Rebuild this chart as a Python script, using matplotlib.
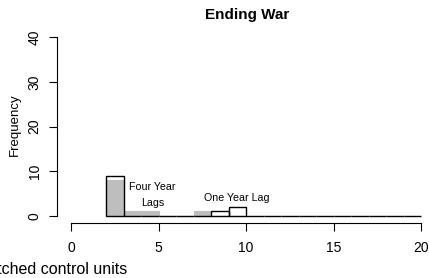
#! /usr/bin/env python3

import matplotlib
matplotlib.use( "Agg" )
import matplotlib.pyplot as plt
import numpy as np

plt.rcParams["font.family"] = ["Liberation Sans", "DejaVu Sans"]

# histogram bins (unit width) and counts
four_edges = np.arange( 2, 11 )
four_counts = [8, 1, 1, 0, 0, 1, 0, 0]
one_edges = np.arange( 2, 21 )
one_counts = [9, 0, 0, 0, 0, 0, 1, 2] + [0] * 10

title = "Ending War"
xlabel = "Number of matched control units"
ylabel = "Frequency"
xticks = [0, 5, 10, 15, 20]
yticks = [0, 10, 20, 30, 40]

fig = plt.figure( figsize=(4.29, 2.78), dpi=100 )
ax = fig.add_axes( [57/429, 55/278, 378/429, 193/278] )

ax.bar( four_edges[:-1], four_counts, width=np.diff( four_edges ), align="edge",
        color="#bebebe", edgecolor="#bebebe", linewidth=0.8 )
ax.bar( one_edges[:-1], one_counts, width=np.diff( one_edges ), align="edge",
        fill=False, edgecolor="black", linewidth=1.0 )

ax.text( 4.65, 6.4, "Four Year", ha="center", va="center", fontsize=7.7 )
ax.text( 4.65, 2.9, "Lags", ha="center", va="center", fontsize=7.7 )
ax.text( 9.5, 4.0, "One Year Lag", ha="center", va="center", fontsize=7.7 )

ax.set_xlim( -0.8, 20.8 )
ax.set_ylim( -1.6, 41.6 )
for s in ["top", "right"]:
    ax.spines[s].set_visible( False )
ax.spines["left"].set_bounds( 0, 40 )
ax.spines["bottom"].set_bounds( 0, 20 )
ax.spines["left"].set_linewidth( 0.8 )
ax.spines["bottom"].set_linewidth( 0.8 )
ax.set_xticks( xticks )
ax.set_yticks( yticks )
ax.set_yticklabels( [str(v) for v in yticks], rotation=90, va="center" )
ax.tick_params( length=6, width=0.8, labelsize=10, pad=7 )
ax.tick_params( axis="y", pad=5 )

fig.text( 247/429, 1 - 15/278, title, ha="center", va="center",
          fontsize=11, fontweight="bold" )
fig.text( 15/429, 1 - 125/278, ylabel, ha="center", va="center",
          rotation=90, fontsize=9.5 )
fig.text( 127/429, 1 - 270/278, xlabel, ha="right", va="center", fontsize=11.5 )

fig.savefig( "out.png", dpi=100 )
